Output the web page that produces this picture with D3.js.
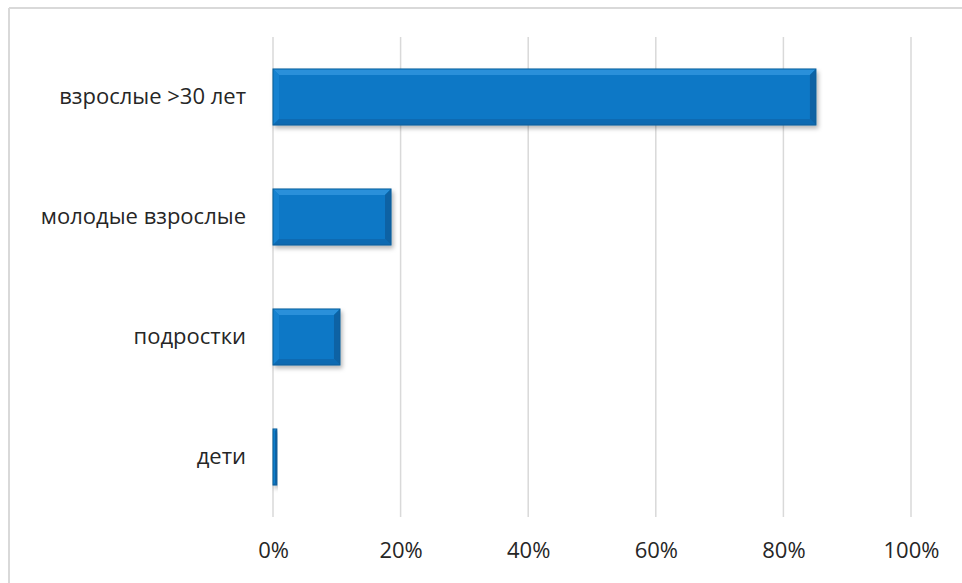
<!DOCTYPE html>
<html>
<head>
<meta charset="utf-8">
<script src="https://cdn.jsdelivr.net/npm/d3@7"></script>
<style>
  body { margin: 0; background: #fff; }
  svg { display: block; }
  text { font-family: "Open Sans", "Noto Sans", sans-serif; fill: #262626; }
</style>
</head>
<body>
<svg id="chart" width="962" height="583"></svg>
<script>
var categories = ["взрослые >30 лет", "молодые взрослые", "подростки", "дети"];
var values = [0.851, 0.185, 0.105, 0.006];
var ticks = [0, 0.2, 0.4, 0.6, 0.8, 1.0];

var width = 962, height = 583;
var margin = {left: 273, right: 51, top: 37, bottom: 66};

var svg = d3.select("#chart");

// chart frame (top + left only visible)
svg.append("line").attr("x1", 9).attr("y1", 8).attr("x2", 962).attr("y2", 8)
  .style("stroke", "#d9d9d9").style("stroke-width", 2);
svg.append("line").attr("x1", 9).attr("y1", 8).attr("x2", 9).attr("y2", 583)
  .style("stroke", "#d9d9d9").style("stroke-width", 2);

var x = d3.scaleLinear().domain([0, 1]).range([margin.left, width - margin.right]);
var y = d3.scaleBand().domain(categories)
  .range([margin.top, height - margin.bottom])
  .paddingInner(0.533).paddingOuter(0.2665);

var defs = svg.append("defs");
var f = defs.append("filter").attr("id", "shadow")
  .attr("x", "-20%").attr("y", "-20%").attr("width", "140%").attr("height", "150%");
f.append("feDropShadow").attr("dx", 2).attr("dy", 3).attr("stdDeviation", 2)
  .attr("flood-color", "#000").attr("flood-opacity", 0.28);

// gridlines
svg.append("g").selectAll("line").data(ticks).join("line")
  .attr("x1", function(d) { return x(d); })
  .attr("x2", function(d) { return x(d); })
  .attr("y1", margin.top)
  .attr("y2", height - margin.bottom)
  .style("stroke", "#d9d9d9").style("stroke-width", 1.5);

// x axis labels
var xAxis = d3.axisBottom(x).tickValues(ticks).tickSize(0).tickPadding(0)
  .tickFormat(d3.format(".0%"));
var gx = svg.append("g").attr("transform", "translate(0," + (height - margin.bottom) + ")").call(xAxis);
gx.select(".domain").remove();
gx.selectAll("text").attr("y", 25).style("font-size", "22px").style("fill", "#262626")
  .style("font-family", "'Open Sans', sans-serif");

// y labels
var yAxis = d3.axisLeft(y).tickSize(0).tickPadding(27);
var gy = svg.append("g").attr("transform", "translate(" + margin.left + ",0)").call(yAxis);
gy.select(".domain").remove();
gy.selectAll("text").style("font-size", "22px").style("fill", "#262626")
  .style("font-family", "'Open Sans', sans-serif");

// bars with bevel
var bars = svg.append("g").selectAll("g").data(categories).join("g")
  .attr("filter", "url(#shadow)");

bars.each(function(c, i) {
  var g = d3.select(this);
  var x0 = x(0), x1 = x(values[i]);
  var y0 = y(c), h = y.bandwidth(), y1 = y0 + h;
  var w = x1 - x0;
  var b = Math.min(6, w / 2);
  g.append("rect").attr("x", x0).attr("y", y0).attr("width", w).attr("height", h)
    .style("fill", "#0878c6");
  // top bevel
  g.append("polygon").attr("points", [[x0, y0], [x1, y0], [x1 - b, y0 + b], [x0 + b, y0 + b]].join(" "))
    .style("fill", "#2a90da");
  // left bevel
  g.append("polygon").attr("points", [[x0, y0], [x0 + b, y0 + b], [x0 + b, y1 - b], [x0, y1]].join(" "))
    .style("fill", "#1582d0");
  // bottom bevel
  g.append("polygon").attr("points", [[x0, y1], [x0 + b, y1 - b], [x1 - b, y1 - b], [x1, y1]].join(" "))
    .style("fill", "#086bb2");
  // right bevel
  g.append("polygon").attr("points", [[x1, y0], [x1 - b, y0 + b], [x1 - b, y1 - b], [x1, y1]].join(" "))
    .style("fill", "#0a62a4");
  g.append("rect").attr("x", x0).attr("y", y0).attr("width", w).attr("height", h)
    .style("fill", "none").style("stroke", "#0a5c9a").style("stroke-width", 1);
});
</script>
</body>
</html>
